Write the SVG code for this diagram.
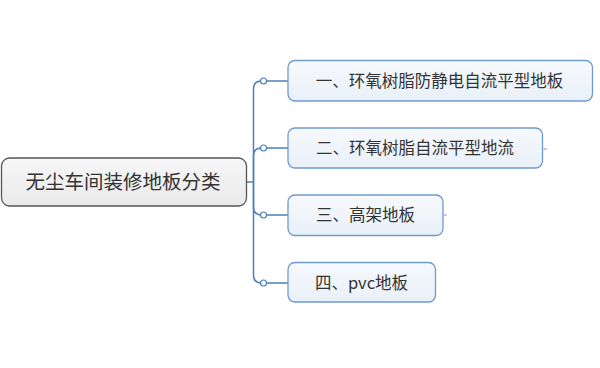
<svg xmlns="http://www.w3.org/2000/svg" width="600" height="368" viewBox="0 0 600 368">
<defs>
<linearGradient id="gc" x1="0" y1="0" x2="0" y2="1"><stop offset="0" stop-color="#f7f7f7"/><stop offset="1" stop-color="#e9e9e9"/></linearGradient>
<linearGradient id="gb" x1="0" y1="0" x2="0" y2="1"><stop offset="0" stop-color="#f7f9fc"/><stop offset="1" stop-color="#e9f0f9"/></linearGradient>
</defs>
<style>
.c{fill:none;stroke:#4f7fba;stroke-width:1.5}
.dot{fill:#fff;stroke:#4f7fba;stroke-width:1.2}
.b{fill:url(#gb);stroke:#6f9ad0;stroke-width:1.3}
.t{font-family:"Noto Sans CJK SC","Noto Sans",sans-serif;fill:#333;text-anchor:middle}
</style>
<rect width="600" height="368" fill="#fff"/>
<g id="connectors">
<path class="c" d="M246,182 H253.5"/>
<path class="c" d="M253.5,182 V89 Q253.5,81 261.5,81 H288"/>
<path class="c" d="M253.5,182 V156 Q253.5,148 261.5,148 H288"/>
<path class="c" d="M253.5,182 V207 Q253.5,215 261.5,215 H288"/>
<path class="c" d="M253.5,182 V275 Q253.5,283 261.5,283 H288"/>
<circle class="dot" cx="263.5" cy="81" r="3"/>
<circle class="dot" cx="263.5" cy="148" r="3"/>
<circle class="dot" cx="263.5" cy="215" r="3"/>
<circle class="dot" cx="263.5" cy="283" r="3"/>
<path d="M543.5,149 H547 M443.5,215 H447" stroke="#6f9ad0" stroke-width="1"/>
</g>
<g id="root">
<rect x="1.5" y="158" width="245" height="48" rx="8" fill="url(#gc)" stroke="#555" stroke-width="1.3"/>
<text class="t" x="123" y="189" font-size="19.5">无尘车间装修地板分类</text>
</g>
<g id="n1">
<rect class="b" x="288" y="60.5" width="304.5" height="40.5" rx="7"/>
<text class="t" x="439.5" y="86.5" font-size="16.5">一、环氧树脂防静电自流平型地板</text>
</g>
<g id="n2">
<rect class="b" x="288" y="128" width="254.5" height="40" rx="7"/>
<text class="t" x="415" y="154" font-size="16.5">二、环氧树脂自流平型地流</text>
</g>
<g id="n3">
<rect class="b" x="288" y="195" width="155" height="40.5" rx="7"/>
<text class="t" x="365.5" y="221" font-size="16.5">三、高架地板</text>
</g>
<g id="n4">
<rect class="b" x="288" y="262.5" width="147.5" height="39.5" rx="7"/>
<text class="t" x="361.5" y="288.5" font-size="16.5">四、pvc地板</text>
</g>
</svg>
